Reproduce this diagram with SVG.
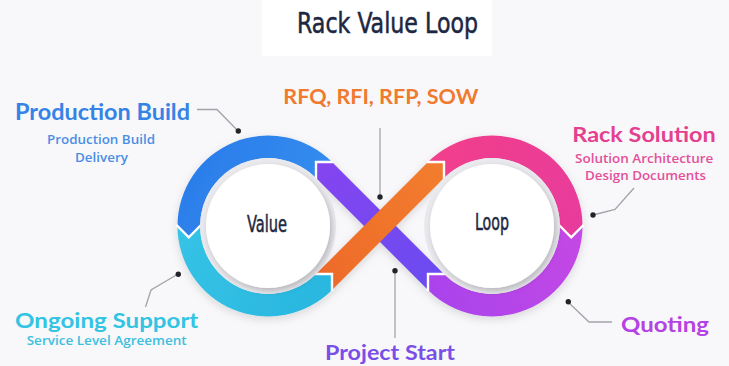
<svg xmlns="http://www.w3.org/2000/svg" width="729" height="366" viewBox="0 0 729 366">
  <style>
    .lbl { font-family: Lato, "Open Sans", "Liberation Sans", sans-serif; font-weight: 700; text-anchor: middle; }
    .sub { font-family: "Open Sans", Lato, "Liberation Sans", sans-serif; font-weight: 600; text-anchor: middle; font-size: 12.5px; }
    .cond { font-family: "Liberation Sans Narrow", "DejaVu Sans Condensed", "Liberation Sans", sans-serif; font-stretch: condensed; font-weight: 400; text-anchor: middle; fill: #1d2742; stroke: #1d2742; stroke-width: 0.5; }
    .sep { fill: none; stroke: #ffffff; stroke-width: 2.4; stroke-linejoin: miter; }
    .lead { fill: none; stroke: #a3a3ab; stroke-width: 1.3; }
    .dot { fill: #222428; }
  </style>
  <defs>
    <linearGradient id="gBlue" gradientUnits="userSpaceOnUse" x1="180" y1="140" x2="330" y2="230">
      <stop offset="0" stop-color="#2a7aea"/>
      <stop offset="1" stop-color="#3590ee"/>
    </linearGradient>
    <linearGradient id="gCyan" gradientUnits="userSpaceOnUse" x1="180" y1="230" x2="330" y2="310">
      <stop offset="0" stop-color="#35c3e6"/>
      <stop offset="1" stop-color="#29b6df"/>
    </linearGradient>
    <linearGradient id="gPink" gradientUnits="userSpaceOnUse" x1="430" y1="140" x2="580" y2="230">
      <stop offset="0" stop-color="#f23f8a"/>
      <stop offset="1" stop-color="#e73b9c"/>
    </linearGradient>
    <linearGradient id="gViolet" gradientUnits="userSpaceOnUse" x1="580" y1="230" x2="430" y2="310">
      <stop offset="0" stop-color="#c548e4"/>
      <stop offset="1" stop-color="#a843ec"/>
    </linearGradient>
    <linearGradient id="gBand" gradientUnits="userSpaceOnUse" x1="320" y1="165" x2="440" y2="285">
      <stop offset="0" stop-color="#8444f0"/>
      <stop offset="1" stop-color="#6a4cf0"/>
    </linearGradient>
    <linearGradient id="gOrange" gradientUnits="userSpaceOnUse" x1="320" y1="285" x2="440" y2="165">
      <stop offset="0" stop-color="#ee6a2a"/>
      <stop offset="1" stop-color="#f27d2e"/>
    </linearGradient>
    <filter id="soft" x="-20%" y="-20%" width="140%" height="140%">
      <feDropShadow dx="0" dy="3" stdDeviation="4" flood-color="#000" flood-opacity="0.13"/>
    </filter>
    <filter id="disc" x="-20%" y="-20%" width="140%" height="140%">
      <feDropShadow dx="2" dy="3" stdDeviation="3" flood-color="#000" flood-opacity="0.22"/>
    </filter>
  </defs>

  <rect width="729" height="366" fill="#f8f8fa"/>
  <rect x="262" y="0" width="230" height="56" fill="#ffffff"/>

  <g id="title">
    <text class="cond" x="387.5" y="33" font-size="28" textLength="181" lengthAdjust="spacingAndGlyphs">Rack Value Loop</text>
  </g>

  <g id="loop-shape" filter="url(#soft)">
    <g id="seg-blue">
      <path d="M316,178 L316,162 L332,162 A90.51,90.51 0 0 0 177.49,226 L188.8,237.31 L200.12,226 A67.88,67.88 0 0 1 316,178 Z" fill="url(#gBlue)"/>
    </g>
    <g id="seg-cyan">
      <path d="M177.49,226 L188.8,237.31 L200.12,226 A67.88,67.88 0 0 0 316,274 L332,274 L332,290 A90.51,90.51 0 0 1 177.49,226 Z" fill="url(#gCyan)"/>
    </g>
    <g id="seg-pink">
      <path d="M444,178 L444,162 L428,162 A90.51,90.51 0 0 1 582.51,226 L571.2,237.31 L559.88,226 A67.88,67.88 0 0 0 444,178 Z" fill="url(#gPink)"/>
    </g>
    <g id="seg-violet">
      <path d="M582.51,226 L571.2,237.31 L559.88,226 A67.88,67.88 0 0 1 444,274 L428,274 L428,290 A90.51,90.51 0 0 0 582.51,226 Z" fill="url(#gViolet)"/>
    </g>
    <g id="band-purple">
      <path d="M444,274 L428,274 L428,290 L316,178 L316,162 L332,162 Z" fill="url(#gBand)"/>
    </g>
    <g id="band-orange">
      <path d="M316,274 L332,274 L332,290 L444,178 L444,162 L428,162 Z" fill="url(#gOrange)"/>
    </g>
    <polyline class="sep" points="333,162 316,162 316,179"/>
    <polyline class="sep" points="427,162 444,162 444,179"/>
    <polyline class="sep" points="315,274 332,274 332,291"/>
    <polyline class="sep" points="445,274 428,274 428,291"/>
    <polyline class="sep" points="176.5,225 188.8,237.31 201,225"/>
    <polyline class="sep" points="559,225 571.2,237.31 583.5,225"/>
  </g>

  <g id="value">
    <circle cx="268" cy="226" r="67.9" fill="#e9e9ee"/>
    <circle cx="268" cy="226" r="62" fill="#ffffff" filter="url(#disc)"/>
    <text class="cond" x="267" y="232" font-size="23" textLength="40" lengthAdjust="spacingAndGlyphs">Value</text>
  </g>
  <g id="loop">
    <circle cx="492" cy="226" r="67.9" fill="#e9e9ee"/>
    <circle cx="492" cy="226" r="62" fill="#ffffff" filter="url(#disc)"/>
    <text class="cond" x="492" y="230" font-size="23" textLength="34" lengthAdjust="spacingAndGlyphs">Loop</text>
  </g>

  <g id="connectors">
    <polyline class="lead" points="197,109.5 217,109.5 238,131"/>
    <circle class="dot" cx="238.3" cy="131" r="2.7"/>
    <polyline class="lead" points="380,128 380,197"/>
    <circle class="dot" cx="380" cy="197" r="2.7"/>
    <polyline class="lead" points="593,215 615,209.5 634,188"/>
    <circle class="dot" cx="593" cy="215" r="2.7"/>
    <polyline class="lead" points="178,274 151,290 145.5,307"/>
    <circle class="dot" cx="178.3" cy="274.3" r="2.7"/>
    <polyline class="lead" points="395,271 395,338"/>
    <circle class="dot" cx="395" cy="270.7" r="2.7"/>
    <polyline class="lead" points="568,302 589,322 612,322"/>
    <circle class="dot" cx="568.3" cy="301.7" r="2.7"/>
  </g>

  <g id="production-build">
    <text class="lbl" x="102.5" y="120" font-size="22" fill="#3683e6" textLength="175" lengthAdjust="spacingAndGlyphs">Production Build</text>
    <text class="sub" x="101" y="143.5" fill="#4a8ee6" textLength="108" lengthAdjust="spacingAndGlyphs">Production Build</text>
    <text class="sub" x="101.5" y="162" fill="#4a8ee6" textLength="53" lengthAdjust="spacingAndGlyphs">Delivery</text>
  </g>
  <g id="rfq">
    <text class="lbl" x="380.8" y="104" font-size="20.5" fill="#f07a2e" textLength="195" lengthAdjust="spacingAndGlyphs">RFQ, RFI, RFP, SOW</text>
  </g>
  <g id="rack-solution">
    <text class="lbl" x="644" y="141.7" font-size="20" fill="#e4408f" textLength="143.4" lengthAdjust="spacingAndGlyphs">Rack Solution</text>
    <text class="sub" x="644.2" y="163" font-size="12" fill="#e4509a" textLength="138.3" lengthAdjust="spacingAndGlyphs">Solution Architecture</text>
    <text class="sub" x="645.5" y="179.8" font-size="12" fill="#e4509a" textLength="121" lengthAdjust="spacingAndGlyphs">Design Documents</text>
  </g>
  <g id="ongoing-support">
    <text class="lbl" x="106.7" y="328" font-size="20" fill="#33c4e3" textLength="183.3" lengthAdjust="spacingAndGlyphs">Ongoing Support</text>
    <text class="sub" x="106.7" y="344.5" fill="#3dbfe0" textLength="160" lengthAdjust="spacingAndGlyphs">Service Level Agreement</text>
  </g>
  <g id="project-start">
    <text class="lbl" x="390" y="360" font-size="21" fill="#7a4fe6" textLength="130" lengthAdjust="spacingAndGlyphs">Project Start</text>
  </g>
  <g id="quoting">
    <text class="lbl" x="665" y="332" font-size="21" fill="#b442e4" textLength="88" lengthAdjust="spacingAndGlyphs">Quoting</text>
  </g>
</svg>
